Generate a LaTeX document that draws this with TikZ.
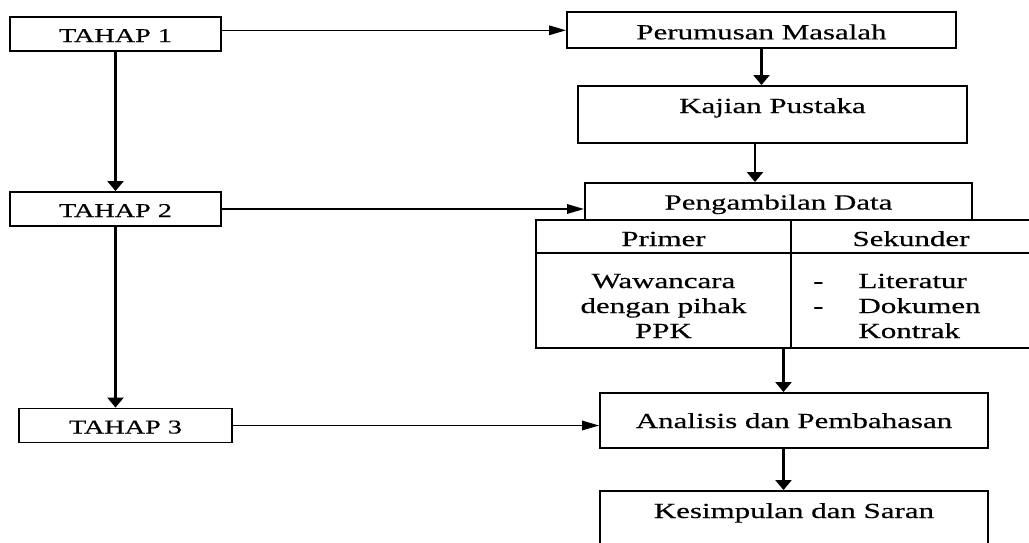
\documentclass[tikz,border=0pt]{standalone}
\usepackage{fontspec}
\setmainfont{Liberation Serif}[FakeStretch=1.44,FakeBold=0.4]
\usetikzlibrary{arrows.meta}
\usetikzlibrary{positioning}

\begin{document}
\begin{tikzpicture}[x=1pt,y=-1pt,
    tahap/.style={draw, line width=1.9pt, inner sep=0pt, minimum width=211pt,
        text height=25pt, text depth=9pt, font=\fontsize{19.6}{22}\selectfont},
    box/.style={draw, line width=1.9pt, inner sep=0pt, font=\fontsize{21.5}{25}\selectfont},
    cell/.style={inner sep=0pt, font=\fontsize{21.5}{25}\selectfont},
    varrow/.style={draw, line width=2.4pt, -{Triangle[length=10pt,width=16pt]}},
    harrow/.style={draw, line width=1.6pt, -{Triangle[length=17pt,width=9.5pt]}}]
    \useasboundingbox (0,0) rectangle (1029,542);
    \node [tahap] (t1) at (115.5,34) {TAHAP 1};
    \node [tahap] (t2) at (115.5,209) {TAHAP 2};
    \node [tahap, minimum width=213pt] (t3) at (125.5,425.5) {TAHAP 3};
    \node [box, minimum width=389pt, text height=27pt, text depth=9pt] (pm) at (761.5,30.3) {Perumusan Masalah};
    \node [box, minimum width=389pt, text height=27pt, text depth=30pt] (kp) at (772.5,114.5) {Kajian Pustaka};
    \node [box, minimum width=387pt, text height=26.5pt, text depth=10.5pt] (pd) at (778.5,201.5) {Pengambilan Data};
    \node [box, minimum width=495pt, minimum height=128pt] (tb) at (783.5,284) {};
    \node [box, minimum width=388pt, text height=35pt, text depth=20pt] (an) at (794,420.5) {Analisis dan Pembahasan};
    \node [box, minimum width=388pt, text height=27pt, text depth=50pt] (ks) at (794,529.5) {Kesimpulan dan Saran};
    \draw [line width=1.5pt] ([yshift=-34pt]tb.north west) -- ([yshift=-34pt]tb.north east);
    \draw [line width=1.9pt] ([xshift=7.5pt]tb.north) -- ([xshift=7.5pt]tb.south);
    \node [cell, anchor=base] (pr) at (663.5,246) {Primer};
    \node [cell, anchor=base] (sk) at (911,246) {Sekunder};
    \node [cell, anchor=base] (prtx) at (663.5,288)
        {\begin{tabular}[t]{@{}c@{}}Wawancara\\dengan pihak\\PPK\end{tabular}};
    \node [cell, anchor=base west] (sktx) at (813,288)
        {\begin{tabular}[t]{@{}l@{\hspace{35pt}}l@{}}-&Literatur\\-&Dokumen\\&Kontrak\end{tabular}};
    \coordinate (kpout) at (755,143);
    \draw [harrow] (t1.east |- pm.west) -- (pm.west);
    \draw [harrow] (t2.east) -- (pd.west |- t2.east);
    \draw [harrow] (t3.east) -- (an.west |- t3.east);
    \draw [varrow] (t1.south) -- (t2.north);
    \draw [varrow] (t2.south) -- (t2.south |- t3.north);
    \draw [varrow] (pm.south) -- (pm.south |- kp.north);
    \draw [varrow] (kpout) -- (kpout |- pd.north);
    \draw [varrow] (tb.south) -- (tb.south |- an.north);
    \draw [varrow] (an.south -| tb.south) -- (ks.north -| tb.south);
\end{tikzpicture}
\end{document}
